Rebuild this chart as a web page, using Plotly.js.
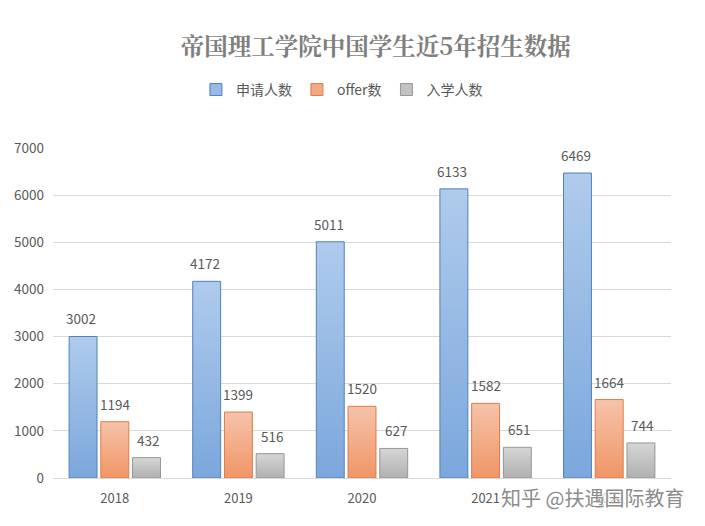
<!DOCTYPE html>
<html>
<head>
<meta charset="utf-8">
<script src="https://cdn.plot.ly/plotly-3.0.1.min.js"></script>
<style>
  html, body { margin: 0; padding: 0; background: #fff; }
  #chart { width: 705px; height: 526px; }
</style>
</head>
<body>
<div id="chart"></div>
<script>
// data
var years = ['2018', '2019', '2020', '2021', '2022']
var applied = [3002, 4172, 5011, 6133, 6469]
var offers = [1194, 1399, 1520, 1582, 1664]
var enrolled = [432, 516, 627, 651, 744]
var seriesNames = ['申请人数', 'offer数', '入学人数']

var cjk = '"Noto Sans CJK SC", "Noto Sans", sans-serif'
var grey = '#595959'

// solid fallbacks, gradients are applied after render
var fills = ['#97bbe4', '#f3a985', '#c2c2c2']
var lines = ['#4f81bd', '#e07b45', '#969696']
var grads = [['#afcbec', '#7ba7dc'], ['#f6c3aa', '#f09566'], ['#d6d6d6', '#b0b0b0']]
var allSeries = [applied, offers, enrolled]
var offsets = [-33.5, 0, 33.5]

var traces = []
var labels = []
for (var s = 0; s < allSeries.length; s++) {
    traces.push({
        type: 'bar',
        x: years,
        y: allSeries[s],
        name: seriesNames[s],
        marker: {color: fills[s], line: {color: lines[s], width: 1}},
        hoverinfo: 'x+y+name',
    })
    for (var i = 0; i < years.length; i++) {
        // numeric-looking category names get read as indices, so use the index
        labels.push({
            x: i, y: allSeries[s][i],
            xref: 'x', yref: 'y',
            text: String(allSeries[s][i]),
            showarrow: false,
            xshift: offsets[s], yshift: 18,
            font: {family: cjk, size: 13.5, color: grey},
        })
    }
}

// watermark
labels.push({
    xref: 'paper', yref: 'paper',
    x: 0.722, y: -0.058,
    xanchor: 'left', yanchor: 'middle',
    text: '知乎 @扶遇国际教育',
    showarrow: false,
    bgcolor: 'rgba(255,255,255,0.75)',
    font: {family: cjk, size: 20, color: '#8c8c8c'},
})

var layout = {
    width: 705,
    height: 526,
    paper_bgcolor: '#fff',
    plot_bgcolor: '#fff',
    margin: {l: 53, r: 34, t: 148, b: 48},
    barmode: 'group',
    bargap: 0.23,
    bargroupgap: 0.12,
    title: {
        text: '<b>帝国理工学院中国学生近5年招生数据</b>',
        font: {family: '"Noto Serif CJK SC", "Noto Sans CJK SC", serif', size: 23.5, color: '#7f7f7f'},
        xref: 'container', x: 0.533, xanchor: 'center',
        yref: 'container', y: 0.912, yanchor: 'middle',
    },
    showlegend: true,
    legend: {
        orientation: 'h',
        xref: 'container', x: 0.485, xanchor: 'center',
        yref: 'container', y: 0.829, yanchor: 'middle',
        font: {family: cjk, size: 14, color: grey},
        itemwidth: 30,
        tracegroupgap: 0,
    },
    xaxis: {
        type: 'category',
        range: [-0.5, years.length - 0.5],
        showgrid: false,
        showline: true,
        linecolor: '#d9d9d9',
        ticks: '',
        ticklabelstandoff: 8,
        tickfont: {family: cjk, size: 13, color: grey},
        fixedrange: true,
    },
    yaxis: {
        range: [0, 7000],
        dtick: 1000,
        showgrid: true,
        gridcolor: '#d9d9d9',
        zeroline: false,
        ticks: '',
        ticklabelstandoff: 8,
        tickfont: {family: cjk, size: 13.5, color: grey},
        fixedrange: true,
    },
    annotations: labels,
}

Plotly.newPlot('chart', traces, layout, {displayModeBar: false}).then(function () {
    var svg = document.querySelector('#chart .main-svg')
    var ns = 'http://www.w3.org/2000/svg'
    var defs = document.createElementNS(ns, 'defs')
    for (var g = 0; g < grads.length; g++) {
        var lg = document.createElementNS(ns, 'linearGradient')
        lg.setAttribute('id', 'barGrad' + g)
        lg.setAttribute('x1', '0'); lg.setAttribute('y1', '0')
        lg.setAttribute('x2', '0'); lg.setAttribute('y2', '1')
        var st1 = document.createElementNS(ns, 'stop')
        st1.setAttribute('offset', '0'); st1.setAttribute('stop-color', grads[g][0])
        var st2 = document.createElementNS(ns, 'stop')
        st2.setAttribute('offset', '1'); st2.setAttribute('stop-color', grads[g][1])
        lg.appendChild(st1); lg.appendChild(st2)
        defs.appendChild(lg)
    }
    svg.insertBefore(defs, svg.firstChild)
    var barTraces = document.querySelectorAll('#chart .barlayer .trace')
    barTraces.forEach(function (tr, idx) {
        tr.querySelectorAll('.point path').forEach(function (p) {
            p.style.fill = 'url(#barGrad' + idx + ')'
        })
    })
})
</script>
</body>
</html>
